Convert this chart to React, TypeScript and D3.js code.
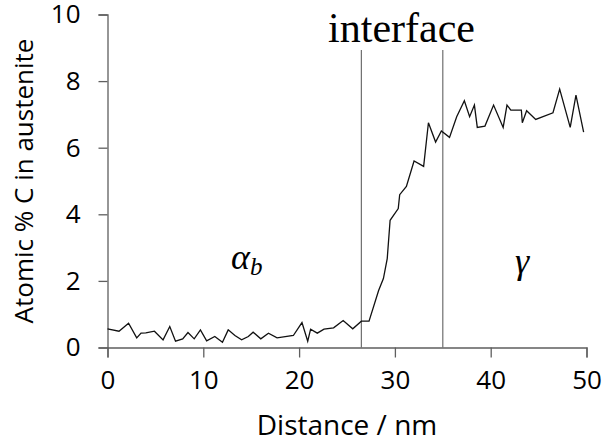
import React, { useEffect, useRef } from "react";
import * as d3 from "d3";

const width = 606;
const height = 444;
const margin = { top: 14.5, right: 19.5, bottom: 96.5, left: 107.5 };

// distance along the profile (nm)
const distance = [
  0, 1.2, 2.2, 3.05, 3.5, 4.0, 4.9, 5.8, 6.5, 7.1, 7.85, 8.4, 9.05, 9.7, 10.35,
  11.2, 12.0, 12.6, 13.3, 14.0, 14.7, 15.2, 16.0, 16.8, 17.7, 19.4, 20.3, 20.9,
  21.2, 21.9, 22.6, 23.6, 24.6, 25.6, 26.5, 27.3, 28.3, 28.8, 29.2, 29.5, 30.35,
  30.5, 31.2, 32.0, 33.0, 33.5, 34.25, 34.85, 35.7, 36.45, 37.25, 37.8, 38.3,
  38.6, 39.4, 40.3, 41.3, 41.7, 42.1, 43.2, 43.3, 43.75, 44.7, 46.5, 47.2, 48.3,
  48.9, 49.7,
];
// atomic % C
const carbon = [
  0.56, 0.49, 0.73, 0.29, 0.43, 0.44, 0.49, 0.23, 0.63, 0.19, 0.26, 0.45, 0.26,
  0.53, 0.2, 0.33, 0.16, 0.53, 0.36, 0.23, 0.33, 0.46, 0.26, 0.43, 0.29, 0.36,
  0.75, 0.19, 0.55, 0.43, 0.55, 0.59, 0.81, 0.56, 0.79, 0.79, 1.71, 2.07, 2.67,
  3.82, 4.17, 4.59, 4.84, 5.6, 5.44, 6.75, 6.17, 6.5, 6.31, 6.93, 7.41, 6.93,
  7.28, 6.61, 6.65, 7.28, 6.61, 7.28, 7.13, 7.13, 6.75, 7.11, 6.85, 7.05, 7.76,
  6.61, 7.58, 6.47,
];

const interfaceBounds = [26.5, 35];
const xTicks = [0, 10, 20, 30, 40, 50];
const yTicks = [0, 2, 4, 6, 8, 10];

const axisColor = "#5f5f5f";
const sans = "'Open Sans', sans-serif";
const serif = "'Liberation Serif', 'DejaVu Serif', serif";

export default function App() {
  const ref = useRef<SVGSVGElement>(null);

  useEffect(() => {
    const svg = d3.select(ref.current);
    svg.selectAll("*").remove();

    const x = d3
      .scaleLinear()
      .domain([0, 50])
      .range([margin.left, width - margin.right]);
    const y = d3
      .scaleLinear()
      .domain([0, 10])
      .range([height - margin.bottom, margin.top]);

    // interface boundaries
    svg
      .append("g")
      .selectAll("line")
      .data(interfaceBounds)
      .join("line")
      .attr("x1", d => x(d))
      .attr("x2", d => x(d))
      .attr("y1", 50)
      .attr("y2", y(0))
      .attr("stroke", "#6e6e6e")
      .attr("stroke-width", 1.2);

    const xAxis = g =>
      g
        .attr("transform", `translate(0,${y(0)})`)
        .call(d3.axisBottom(x).tickValues(xTicks).tickSize(10).tickPadding(13))
        .call(g => g.select(".domain").attr("stroke", axisColor).attr("stroke-width", 1.3))
        .call(g => g.selectAll(".tick line").attr("stroke", axisColor).attr("stroke-width", 1.3))
        .call(g =>
          g
            .selectAll(".tick text")
            .attr("fill", "#000")
            .attr("font-family", sans)
            .attr("font-size", 26)
        );

    const yAxis = g =>
      g
        .attr("transform", `translate(${margin.left},0)`)
        .call(d3.axisLeft(y).tickValues(yTicks).tickSize(9).tickPadding(18))
        .call(g => g.select(".domain").attr("stroke", axisColor).attr("stroke-width", 1.3))
        .call(g => g.selectAll(".tick line").attr("stroke", axisColor).attr("stroke-width", 1.3))
        .call(g =>
          g
            .selectAll(".tick text")
            .attr("fill", "#000")
            .attr("font-family", sans)
            .attr("font-size", 26)
        );

    svg.append("g").call(xAxis);
    svg.append("g").call(yAxis);

    const data = distance.map((d, i) => ({ d, c: carbon[i] }));
    const line = d3
      .line<{ d: number; c: number }>()
      .x(p => x(p.d))
      .y(p => y(p.c));

    svg
      .append("path")
      .datum(data)
      .attr("d", line)
      .attr("fill", "none")
      .attr("stroke", "#111")
      .attr("stroke-width", 1.3)
      .attr("stroke-linejoin", "miter");

    // axis titles
    svg
      .append("text")
      .attr("x", (x(0) + x(50)) / 2)
      .attr("y", 435)
      .attr("text-anchor", "middle")
      .attr("font-family", sans)
      .attr("font-size", 28)
      .attr("fill", "#000")
      .text("Distance / nm");

    svg
      .append("text")
      .attr("transform", `translate(33,${(y(0) + y(10)) / 2}) rotate(-90)`)
      .attr("text-anchor", "middle")
      .attr("font-family", sans)
      .attr("font-size", 26)
      .attr("fill", "#000")
      .text("Atomic % C in austenite");

    // annotations
    svg
      .append("text")
      .attr("x", 401.5)
      .attr("y", 42)
      .attr("text-anchor", "middle")
      .attr("font-family", serif)
      .attr("font-size", 42)
      .attr("fill", "#000")
      .text("interface");

    const alpha = svg
      .append("text")
      .attr("x", 231)
      .attr("y", 269)
      .attr("font-family", serif)
      .attr("font-style", "italic")
      .attr("font-size", 36)
      .attr("fill", "#000");
    alpha.append("tspan").text("α");
    alpha
      .append("tspan")
      .attr("font-size", 25)
      .attr("dy", 6)
      .text("b");

    svg
      .append("text")
      .attr("x", 522)
      .attr("y", 273)
      .attr("text-anchor", "middle")
      .attr("font-family", serif)
      .attr("font-style", "italic")
      .attr("font-size", 36)
      .attr("fill", "#000")
      .text("γ");
  }, []);

  return (
    <svg
      ref={ref}
      width={width}
      height={height}
      style={{ position: "absolute", left: 0, top: 0, background: "#fff" }}
    />
  );
}
